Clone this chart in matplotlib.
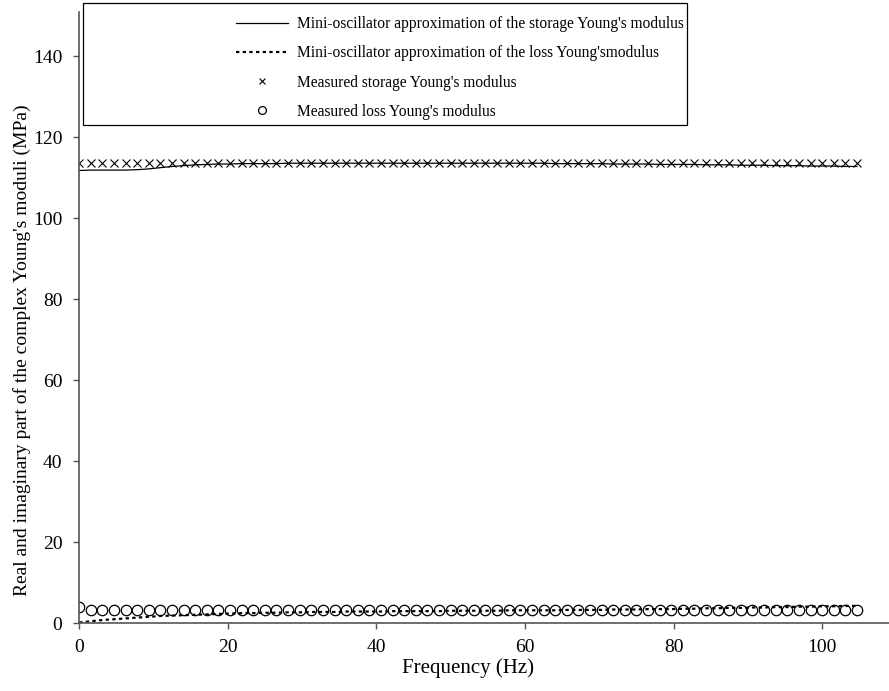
import numpy as np
import matplotlib
matplotlib.use("Agg")
import matplotlib.pyplot as plt
from matplotlib.patches import Rectangle

plt.rcParams['font.family'] = ['Liberation Serif', 'DejaVu Serif']

# Frequencies of the measurement points (Hz), 68 points
freq = np.arange(68) * 1.5625

# Measured storage Young's modulus (MPa)
storage_meas = [113.6, 113.6, 113.6, 113.6, 113.6, 113.6, 113.6, 113.6, 113.6, 113.6,
                113.6, 113.6, 113.6, 113.6, 113.6, 113.6, 113.6, 113.6, 113.6, 113.6,
                113.6, 113.6, 113.6, 113.6, 113.6, 113.6, 113.6, 113.6, 113.6, 113.6,
                113.6, 113.6, 113.6, 113.6, 113.6, 113.6, 113.6, 113.6, 113.6, 113.6,
                113.6, 113.6, 113.6, 113.6, 113.6, 113.6, 113.6, 113.6, 113.6, 113.6,
                113.6, 113.6, 113.6, 113.6, 113.6, 113.6, 113.6, 113.6, 113.6, 113.6,
                113.6, 113.6, 113.6, 113.6, 113.6, 113.6, 113.6, 113.6]

# Measured loss Young's modulus (MPa)
loss_meas = [3.9, 3.3, 3.3, 3.3, 3.3, 3.3, 3.3, 3.3, 3.3, 3.3,
             3.3, 3.3, 3.3, 3.3, 3.3, 3.3, 3.3, 3.3, 3.3, 3.3,
             3.3, 3.3, 3.3, 3.3, 3.3, 3.3, 3.3, 3.3, 3.3, 3.3,
             3.3, 3.3, 3.3, 3.3, 3.3, 3.3, 3.3, 3.3, 3.3, 3.3,
             3.3, 3.3, 3.3, 3.3, 3.3, 3.3, 3.3, 3.3, 3.3, 3.3,
             3.3, 3.3, 3.3, 3.3, 3.3, 3.3, 3.3, 3.3, 3.3, 3.3,
             3.3, 3.3, 3.3, 3.3, 3.3, 3.3, 3.3, 3.3]

# Mini-oscillator approximation, storage part (MPa)
storage_fit = [111.8, 111.9, 111.9, 111.9, 111.9, 112.0, 112.2, 112.5, 112.8, 113.0,
               113.2, 113.3, 113.4, 113.4, 113.5, 113.5, 113.5, 113.5, 113.6, 113.6,
               113.6, 113.6, 113.6, 113.6, 113.6, 113.6, 113.6, 113.6, 113.6, 113.6,
               113.6, 113.6, 113.6, 113.6, 113.6, 113.6, 113.6, 113.6, 113.6, 113.6,
               113.6, 113.5, 113.5, 113.5, 113.5, 113.5, 113.4, 113.4, 113.4, 113.4,
               113.3, 113.3, 113.3, 113.3, 113.2, 113.2, 113.2, 113.1, 113.1, 113.1,
               113.0, 113.0, 113.0, 112.9, 112.9, 112.9, 112.8, 112.8]

# Mini-oscillator approximation, loss part (MPa)
loss_fit = [0.2, 0.5, 0.8, 1.0, 1.2, 1.4, 1.6, 1.8, 1.9, 2.0,
            2.1, 2.2, 2.3, 2.4, 2.5, 2.5, 2.6, 2.6, 2.7, 2.7,
            2.8, 2.8, 2.8, 2.9, 2.9, 2.9, 2.9, 3.0, 3.0, 3.0,
            3.0, 3.0, 3.1, 3.1, 3.1, 3.1, 3.1, 3.2, 3.2, 3.2,
            3.2, 3.2, 3.3, 3.3, 3.3, 3.3, 3.4, 3.4, 3.4, 3.5,
            3.5, 3.5, 3.6, 3.6, 3.7, 3.7, 3.8, 3.8, 3.9, 3.9,
            4.0, 4.0, 4.1, 4.1, 4.2, 4.2, 4.3, 4.3]

fig = plt.figure(figsize=(8.89, 6.91), dpi=100)
ax = fig.add_axes([0.089, 0.098, 0.911, 0.885])

ax.plot(freq, storage_fit, color='black', linewidth=0.9,
        label="Mini-oscillator approximation of the storage Young's modulus")
ax.plot(freq, loss_fit, color='black', linewidth=1.6, linestyle=(0, (1.5, 1.5)),
        label="Mini-oscillator approximation of the loss Young'smodulus")
ax.plot(freq, storage_meas, linestyle='none', marker='x', markersize=6,
        markeredgewidth=0.8, color='black', label="Measured storage Young's modulus")
ax.plot(freq, loss_meas, linestyle='none', marker='o', markersize=7.5,
        markerfacecolor='none', markeredgewidth=0.9, color='black',
        label="Measured loss Young's modulus")

ax.set_xlim(0, 109)
ax.set_ylim(0, 151)
ax.set_xticks([0, 20, 40, 60, 80, 100])
ax.set_yticks([0, 20, 40, 60, 80, 100, 120, 140])
ax.spines['top'].set_visible(False)
ax.spines['right'].set_visible(False)
for s in ['left', 'bottom']:
    ax.spines[s].set_color('#555555')
    ax.spines[s].set_linewidth(1.2)
ax.tick_params(direction='out', length=4, width=1, colors='#555555',
               labelcolor='black', labelsize=14)
ax.tick_params(axis='x', pad=7)
ax.tick_params(axis='y', pad=8)

ax.set_xlabel("Frequency (Hz)", fontsize=15)
ax.xaxis.set_label_coords(0.48, -0.058)
ax.set_ylabel("Real and imaginary part of the complex Young's moduli (MPa)", fontsize=14)
ax.yaxis.set_label_coords(-0.06, 0.447)

# legend frame drawn separately, entries right of a wide blank margin
fig.patches.append(Rectangle((83 / 889, 1 - 125 / 691), (687 - 83) / 889, 122 / 691,
                             transform=fig.transFigure, fill=False,
                             edgecolor='black', linewidth=0.9))
leg = ax.legend(loc='upper left', bbox_to_anchor=(230 / 889, 1 - 10 / 691),
                bbox_transform=fig.transFigure, frameon=False, fontsize=11.2,
                handlelength=3.3, handletextpad=0.6, labelspacing=0.85,
                markerscale=0.75, borderaxespad=0)

fig.savefig("out.png", dpi=100)
